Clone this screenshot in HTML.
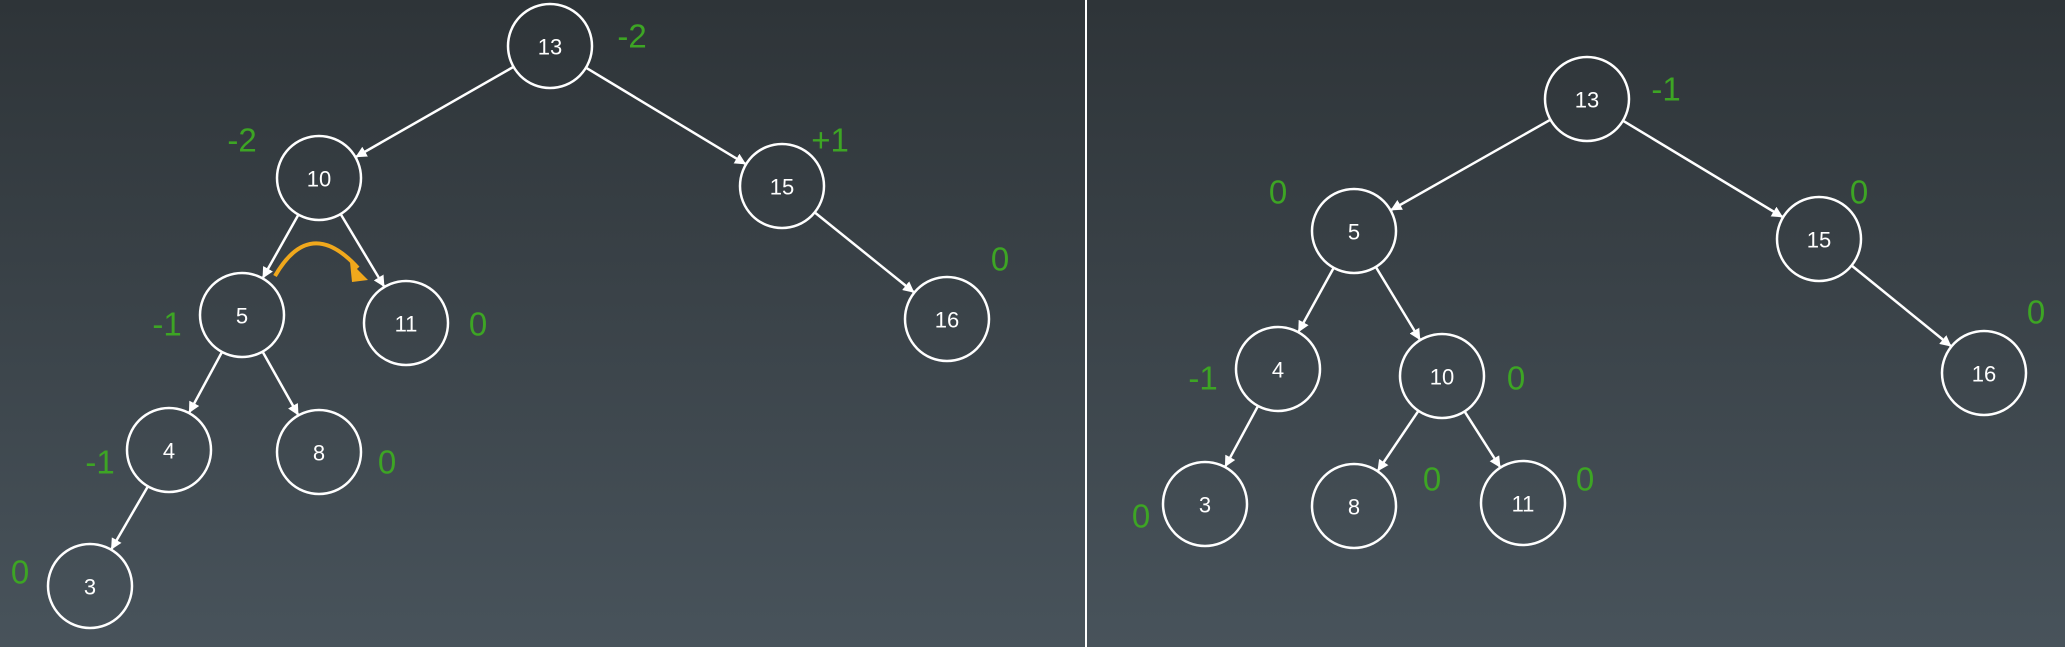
<!DOCTYPE html>
<html><head><meta charset="utf-8"><style>
html,body{margin:0;padding:0;width:2065px;height:647px;overflow:hidden;background:#3a4247}
svg{display:block}
</style></head><body>
<svg id="s" width="2065" height="647" viewBox="0 0 2065 647">
<defs>
<linearGradient id="bg" x1="0" y1="0" x2="0" y2="1">
<stop offset="0" stop-color="#2e3438"/><stop offset="1" stop-color="#48535b"/>
</linearGradient>
<marker id="ah" viewBox="0 0 10 10" refX="9" refY="5" markerWidth="4.5" markerHeight="4.5" orient="auto"><path d="M0,0L10,5L0,10z" fill="#fff"/></marker>
</defs>
<rect width="2065" height="647" fill="url(#bg)"/>
<line x1="1086" y1="0" x2="1086" y2="647" stroke="#fff" stroke-width="2"/>
<path d="M275,276 Q310,215 358,268" fill="none" stroke="#f0a81c" stroke-width="4"/>
<path d="M350,262 L368,280 L352,282 z" fill="#f0a81c"/>
<g id="g"></g>
</svg>
<script>
const leftKeys=["13","10","15","5","11","16","4","8","3"];
const leftX=[550,319,782,242,406,947,169,319,90];
const leftY=[46,178,186,315,323,319,450,452,586];
const leftEdges=[[0,1],[0,2],[1,3],[1,4],[2,5],[3,6],[3,7],[6,8]];
const leftBal=["-2","-2","+1","-1","0","0","-1","0","0"];
const leftBalX=[632,242,830,167,478,1000,100,387,20];
const leftBalY=[36,140,140,324,324,259,462,462,572];
const rightKeys=["13","5","15","4","10","16","3","8","11"];
const rightX=[1587,1354,1819,1278,1442,1984,1205,1354,1523];
const rightY=[99,231,239,369,376,373,504,506,503];
const rightEdges=[[0,1],[0,2],[1,3],[1,4],[2,5],[3,6],[4,7],[4,8]];
const rightBal=["-1","0","0","-1","0","0","0","0","0"];
const rightBalX=[1666,1278,1859,1203,1516,2036,1141,1432,1585];
const rightBalY=[89,192,192,378,378,312,516,479,479];
const R=42, NS="http://www.w3.org/2000/svg", g=document.getElementById('g');
function mk(t,a){const e=document.createElementNS(NS,t);for(const k in a)e.setAttribute(k,a[k]);g.appendChild(e);return e;}
function tree(side,keys,xs,ys,edges,bal,bx,by){
 edges.forEach(([p,c])=>{
  const dx=xs[c]-xs[p],dy=ys[c]-ys[p],d=Math.hypot(dx,dy),ux=dx/d,uy=dy/d;
  const e=mk('line',{x1:xs[p]+ux*R,y1:ys[p]+uy*R,x2:xs[c]-ux*(R+1),y2:ys[c]-uy*(R+1),stroke:'#fff','stroke-width':2.5,'marker-end':'url(#ah)'});
  
  
 });
 keys.forEach((k,i)=>{
  const c=mk('circle',{cx:xs[i],cy:ys[i],r:R,fill:'none',stroke:'#fff','stroke-width':2.5});
  
  
  const t=mk('text',{x:xs[i],y:ys[i]+1,'text-anchor':'middle','dominant-baseline':'central',fill:'#fff','font-size':22,'font-family':'Liberation Sans, sans-serif'});
  t.textContent=k;
  
  
  const b=mk('text',{x:bx[i],y:by[i],'text-anchor':'middle','dominant-baseline':'central',fill:'#3da524','font-size':33,'font-family':'Liberation Sans, sans-serif'});
  b.textContent=bal[i];
  
  
 });
}
tree('left',leftKeys,leftX,leftY,leftEdges,leftBal,leftBalX,leftBalY);
tree('right',rightKeys,rightX,rightY,rightEdges,rightBal,rightBalX,rightBalY);
</script>
</body></html>
